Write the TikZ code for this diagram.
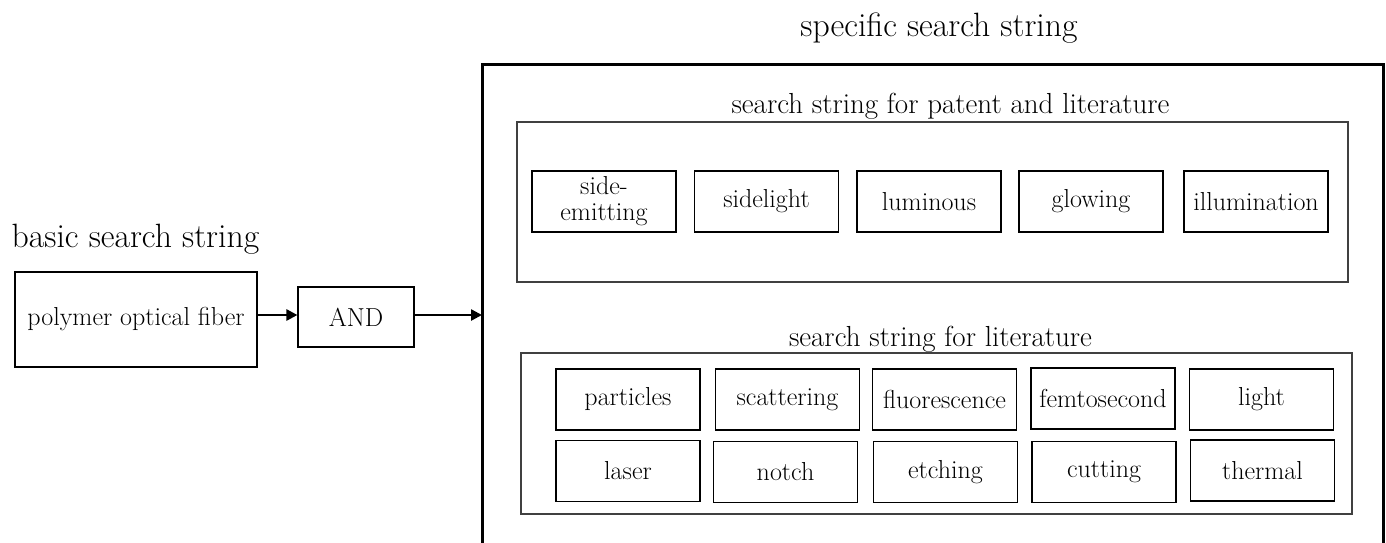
\documentclass[tikz,border=0pt]{standalone}
\usetikzlibrary{arrows.meta}
\tikzset{
  titletext/.style={inner sep=0pt, anchor=base, font=\fontsize{33.7}{40}\selectfont},
  subtitle/.style={inner sep=0pt, anchor=base, font=\fontsize{29}{35}\selectfont},
  term/.style={draw=black, line width=1.1pt, inner sep=0pt, align=center,
    font=\fontsize{26}{26}\selectfont, minimum width=144pt, minimum height=61pt},
  group/.style={draw=black!75, line width=1.5pt},
  outer/.style={draw=black, line width=3pt},
  arr/.style={draw=black, line width=2.5pt, -{Triangle[length=11pt,width=11pt]}}
}
\begin{document}
\begin{tikzpicture}[x=1pt,y=-1pt]
\clip (0,0) rectangle (1386,542);
\fill[white] (0,0) rectangle (1386,542);

% outer container (bottom edge lies below the picture)
\coordinate (bigL) at (482,64);
\coordinate (bigR) at (1383,64);
\draw[outer] (482,600) -- (bigL) -- (bigR) -- (1383,600);
\node[titletext] (ttop) at (939,36) {specific search string};

% group containers
\draw[group] (517,122) rectangle (1348,282);
\node[subtitle] (tpat) at (950.5,113) {search string for patent and literature};
\draw[group] (521,353) rectangle (1352,514);
\node[subtitle] (tlit) at (940.5,346) {search string for literature};

% patent and literature terms
\node[term] (se)  at (604,201.5)  {side-\\emitting};
\node[term] (sl)  at (766.5,201.5){sidelight};
\node[term] (lum) at (929,201.5)  {luminous};
\node[term] (glo) at (1091,201.5) {glowing};
\node[term] (ill) at (1256,201.5) {illumination};

% literature terms
\node[term] (par) at (628,399.5)   {particles};
\node[term] (sca) at (787.5,399.5) {scattering};
\node[term] (flu) at (944.5,399.5) {fluorescence};
\node[term] (fem) at (1103,398.5)  {femtosecond};
\node[term] (lig) at (1261.5,399.5){light};
\node[term] (las) at (628,471)     {laser};
\node[term] (not) at (785.5,472)   {notch};
\node[term] (etc) at (945.5,472)   {etching};
\node[term] (cut) at (1104,472)    {cutting};
\node[term] (the) at (1262.5,470.5){thermal};

% basic search string
\node[titletext] (tbas) at (135.5,247) {basic search string};
\node[term, minimum width=242pt, minimum height=95pt] (poly) at (136,319.5) {polymer optical fiber};
\node[term, minimum width=116pt, minimum height=60pt] (and) at (356,317) {AND};

% connectors
\coordinate (a1) at (257,315);
\draw[arr] (a1) -- (a1 -| and.west);
\coordinate (a2) at (414,315);
\draw[arr] (a2) -- (a2 -| bigL);
\end{tikzpicture}
\end{document}
